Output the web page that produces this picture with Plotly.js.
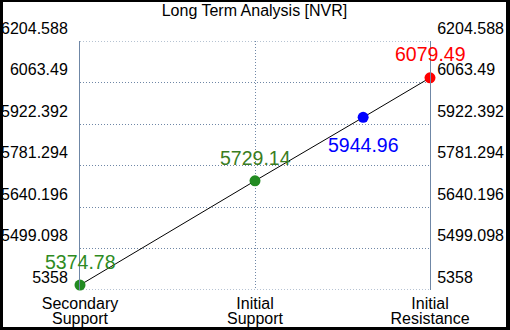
<!DOCTYPE html>
<html>
<head>
<meta charset="utf-8">
<script src="https://cdn.plot.ly/plotly-3.0.1.min.js"></script>
<style>
html,body{margin:0;padding:0;background:#000;width:510px;height:330px;overflow:hidden;}
#chart{position:absolute;left:3px;top:2px;width:503px;height:325px;background:#fff;}
</style>
</head>
<body>
<div id="chart"></div>
<script>
const categoryPos = [0, 1, 2];
const categoryLine1 = ['Secondary', 'Initial', 'Initial'];
const categoryLine2 = ['Support', 'Support', 'Resistance'];
const pointX = [0, 1, 1.618, 2];
const pointY = [5374.78, 5729.14, 5944.96, 6079.49];
const pointLabels = ['5374.78', '5729.14', '5944.96', '6079.49'];
const pointColors = ['#228b22', '#228b22', '#0000ff', '#ff0000'];
const labelColors = ['#2e8b22', '#3a7d22', '#0000ff', '#ff0000'];
const yTicks = [5358, 5499.098, 5640.196, 5781.294, 5922.392, 6063.49, 6204.588];
const yTickText = ['5358', '5499.098', '5640.196', '5781.294', '5922.392', '6063.49', '6204.588'];

// label pixel offsets (style)
const labelShift = [23, 22.5, -28, 24];

const gridCol = '#6f87a6';
const gridDash = '1px,2px';
const fam = 'Liberation Sans, Arial, sans-serif';

const traces = [
  {
    x: pointX, y: pointY, mode: 'lines+markers', type: 'scatter',
    line: {color: '#000', width: 1},
    marker: {color: pointColors, size: 11},
    cliponaxis: false, hoverinfo: 'none', showlegend: false
  },
  {
    x: [pointX[0]], y: [pointY[0]], xaxis: 'x2', yaxis: 'y2', mode: 'markers', type: 'scatter',
    marker: {opacity: 0}, hoverinfo: 'none', showlegend: false
  }
];

const annotations = pointX.map((x, i) => ({
  x: x, y: pointY[i], xref: 'x', yref: 'y',
  text: pointLabels[i], showarrow: false,
  xanchor: 'center', yanchor: 'middle', yshift: labelShift[i],
  font: {family: fam, size: 19.5, color: labelColors[i]}
}));

const yBase = {
  range: [yTicks[0], yTicks[yTicks.length - 1]],
  tickvals: yTicks, ticktext: yTickText,
  showgrid: true, gridcolor: gridCol, griddash: gridDash, gridwidth: 1,
  showline: true, linecolor: gridCol, linewidth: 1,
  zeroline: false, ticks: '',
  tickfont: {family: fam, size: 16, color: '#000'},
  ticklabelshift: -13, fixedrange: true
};

const xBase = {
  range: [0, 2], tickvals: categoryPos,
  showline: false, zeroline: false, ticks: '',
  tickfont: {family: fam, size: 16, color: '#000'}, fixedrange: true
};

const shapes = [yTicks[0], yTicks[yTicks.length - 1]].map(v => ({
  type: 'line', xref: 'paper', yref: 'y', x0: 0, x1: 1, y0: v, y1: v,
  line: {color: gridCol, width: 1, dash: gridDash}, layer: 'below'
}));

const layout = {
  width: 503, height: 325,
  margin: {l: 77, r: 76, t: 39, b: 37},
  paper_bgcolor: '#fff', plot_bgcolor: '#fff',
  title: {text: 'Long Term Analysis [NVR]', font: {family: fam, size: 16, color: '#000'},
          x: 0.5, xanchor: 'center', y: 0.975, yanchor: 'middle', yref: 'container'},
  xaxis: Object.assign({}, xBase, {ticktext: categoryLine1, showgrid: true, gridcolor: gridCol, griddash: gridDash, gridwidth: 1, ticklabelstandoff: 2}),
  xaxis2: Object.assign({}, xBase, {ticktext: categoryLine2, overlaying: 'x', side: 'bottom', anchor: 'y', showgrid: false, ticklabelstandoff: 17}),
  yaxis: Object.assign({}, yBase, {side: 'left', ticklabelstandoff: 8}),
  yaxis2: Object.assign({}, yBase, {side: 'right', overlaying: 'y', anchor: 'x', showgrid: false, ticklabelstandoff: 3}),
  shapes: shapes,
  annotations: annotations,
  showlegend: false
};

Plotly.newPlot('chart', traces, layout, {staticPlot: true, displayModeBar: false});
</script>
</body>
</html>
